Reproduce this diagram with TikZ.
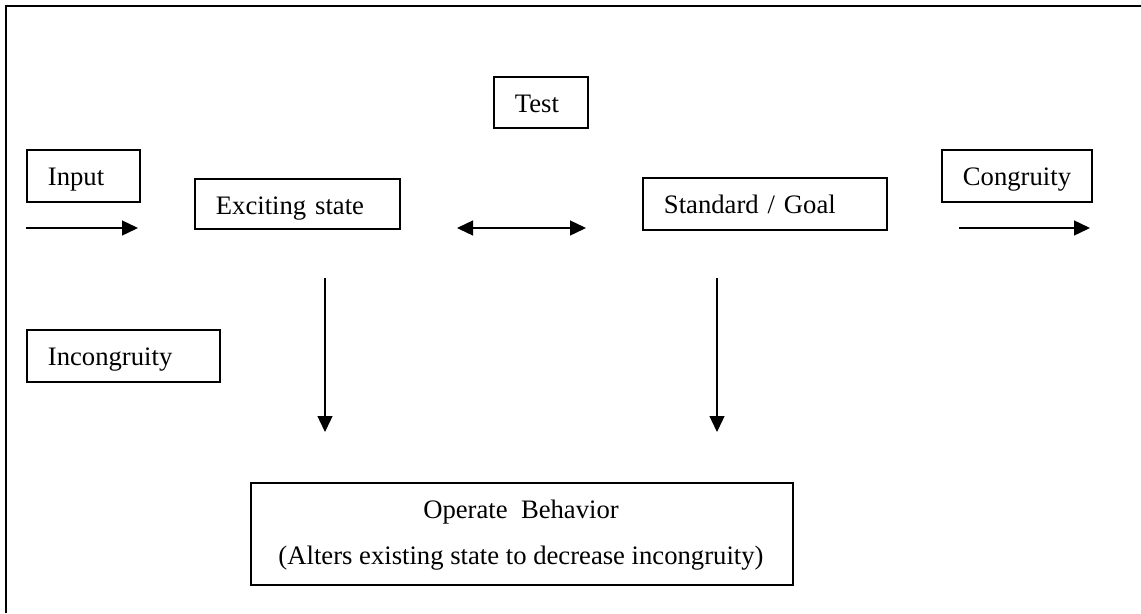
\documentclass[tikz,border=0pt]{standalone}
\usepackage{fontspec}
\setmainfont{Liberation Serif}
\usetikzlibrary{arrows.meta}
\begin{document}
\begin{tikzpicture}[x=0.45pt,y=-0.45pt,
  txt/.style={font=\fontsize{12pt}{14pt}\selectfont, inner sep=0pt},
  box/.style={txt, draw, line width=0.85pt, anchor=north west, align=left,
    inner xsep=9.45pt, inner ysep=0pt, text height=16.2pt},
  arr/.style={line width=0.6pt, -{Triangle[length=7.2pt,width=6.75pt]}},
  darr/.style={line width=0.6pt, {Triangle[length=7.2pt,width=6.75pt]}-{Triangle[length=7.2pt,width=6.75pt]}}]
\useasboundingbox (0,0) rectangle (1141,613);
% outer frame (cut off at right and bottom)
\draw[line width=0.9pt] (6,613) -- (6,6) -- (1141,6);
% boxes
\node[box, text width=31.95pt, text depth=7.2pt] (input) at (26,149) {Input};
\node[box, text width=73.35pt, text depth=6.3pt] (exc) at (194,178) {Exciting state};
\node[box, text width=23.4pt, text depth=6.75pt] (test) at (493,76) {Test};
\node[box, text width=90.9pt, text depth=7.2pt] (std) at (642,177) {Standard / Goal};
\node[box, text width=48.7pt, text depth=7.2pt] (cong) at (941,149) {Congruity};
\node[box, text width=67.95pt, text depth=7.2pt] (incong) at (26,329) {Incongruity};
\node[draw, line width=0.85pt, anchor=north west, inner sep=0pt,
  minimum width=243.9pt, minimum height=45.9pt] (op) at (250,482) {};
\node[txt, anchor=base] (optitle) at (521,518) {Operate\ \ Behavior};
\node[txt, anchor=base] (opsub) at (521,564) {(Alters existing state to decrease incongruity)};
% arrow end points
\coordinate (inA) at (26,228);
\coordinate (inB) at (138,228);
\coordinate (tA) at (457,228);
\coordinate (tB) at (586,228);
\coordinate (cA) at (959,228);
\coordinate (cB) at (1090,228);
\coordinate (lA) at (325,278);
\coordinate (lB) at (325,432);
\coordinate (rA) at (717,278);
\coordinate (rB) at (717,432);
% arrows
\draw[arr] (inA) -- (inB);
\draw[darr] (tA) -- (tB);
\draw[arr] (cA) -- (cB);
\draw[arr] (lA) -- (lB);
\draw[arr] (rA) -- (rB);
\end{tikzpicture}
\end{document}
